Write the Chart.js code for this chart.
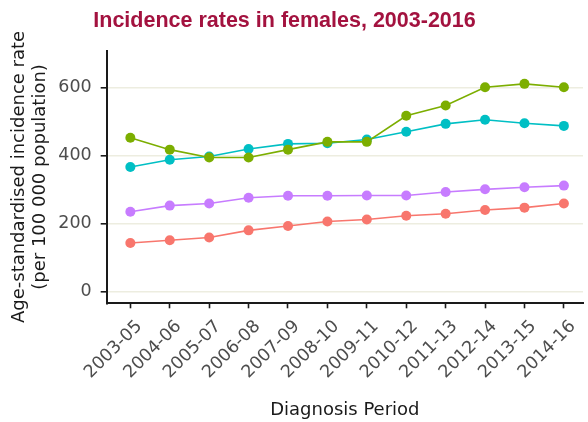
<!DOCTYPE html>
<html>
<head>
<meta charset="utf-8">
<script src="https://cdn.jsdelivr.net/npm/chart.js@4"></script>
<style>
  html, body { margin: 0; padding: 0; background: #ffffff; overflow: hidden; }
  #wrap { position: relative; width: 588px; height: 422px; }
</style>
</head>
<body>
<div id="wrap"><canvas id="c" width="588" height="422"></canvas></div>
<script>
const categories = ["2003-05","2004-06","2005-07","2006-08","2007-09","2008-10","2009-11","2010-12","2011-13","2012-14","2013-15","2014-16"];
const seriesRed    = [143, 151, 159, 180, 193, 206, 212, 223, 229, 240, 247, 259];
const seriesGreen  = [453, 418, 395, 395, 418, 441, 441, 518, 548, 602, 612, 602];
const seriesCyan   = [367, 388, 398, 420, 435, 437, 448, 471, 494, 506, 496, 488];
const seriesPurple = [235, 253, 259, 276, 282, 282, 283, 283, 293, 301, 307, 312];
const yTickValues  = [0, 200, 400, 600];

const titleText = "Incidence rates in females, 2003-2016";
const xTitle = "Diagnosis Period";
const yTitle = ["Age-standardised incidence rate", "(per 100 000 population)"];

function mk(label, values, color) {
  return {
    label: label,
    data: values.map((v, i) => ({ x: i, y: v })),
    borderColor: color,
    backgroundColor: color,
    pointBackgroundColor: color,
    pointBorderColor: color,
    pointRadius: 5,
    pointBorderWidth: 0,
    borderWidth: 1.6,
    tension: 0,
    clip: false
  };
}

const titleShift = {
  id: 'titleShift',
  afterLayout(chart) {
    if (chart.titleBlock) { chart.titleBlock.right -= 19; }
  }
};

const axisFont = { family: "'DejaVu Sans', sans-serif", size: 17.5 };

new Chart(document.getElementById('c'), {
  type: 'line',
  data: {
    datasets: [
      mk("Series 1", seriesRed, "#F8766D"),
      mk("Series 2", seriesGreen, "#7CAE00"),
      mk("Series 3", seriesCyan, "#00BFC4"),
      mk("Series 4", seriesPurple, "#C77CFF")
    ]
  },
  plugins: [titleShift],
  options: {
    responsive: false,
    animation: false,
    layout: { padding: 0 },
    plugins: {
      legend: { display: false },
      tooltip: { enabled: false },
      title: {
        display: true,
        text: titleText,
        color: "#A3123F",
        font: { family: "'Liberation Sans', Arial, sans-serif", size: 21.5, weight: 'bold', lineHeight: 1.2 },
        padding: { top: 8, bottom: 16.8 }
      }
    },
    scales: {
      x: {
        type: 'linear',
        min: -0.6,
        max: 11.485,
        afterBuildTicks(scale) { scale.ticks = categories.map((c, i) => ({ value: i })); },
        afterFit(scale) { scale.height = 118.7; },
        ticks: {
          autoSkip: false,
          minRotation: 45,
          maxRotation: 45,
          labelOffset: 9,
          padding: 8,
          color: "#4D4D4D",
          font: axisFont,
          callback: (v) => categories[v]
        },
        grid: { drawOnChartArea: false, drawTicks: true, tickLength: 5, tickColor: "#1a1a1a", tickWidth: 1.6 },
        border: { display: true, color: "#1a1a1a", width: 2 },
        title: {
          display: true,
          text: xTitle,
          color: "#1a1a1a",
          font: { family: "'DejaVu Sans', sans-serif", size: 18, lineHeight: 1.17 },
          padding: { top: 0, bottom: 1.5 }
        }
      },
      y: {
        type: 'linear',
        min: -35,
        max: 710,
        afterBuildTicks(scale) { scale.ticks = yTickValues.map(v => ({ value: v })); },
        afterFit(scale) { scale.width = 106.7; },
        ticks: {
          color: "#4D4D4D",
          font: axisFont,
          padding: 9
        },
        grid: { drawOnChartArea: true, color: "#EDEDE0", lineWidth: 1.6, drawTicks: true, tickLength: 6, tickColor: "#1a1a1a", tickWidth: 1.6 },
        border: { display: true, color: "#1a1a1a", width: 2 },
        title: {
          display: true,
          text: yTitle,
          color: "#1a1a1a",
          font: { family: "'DejaVu Sans', sans-serif", size: 18, lineHeight: 1.17 },
          padding: { top: 8.5, bottom: 0 }
        }
      }
    }
  }
});
</script>
</body>
</html>
